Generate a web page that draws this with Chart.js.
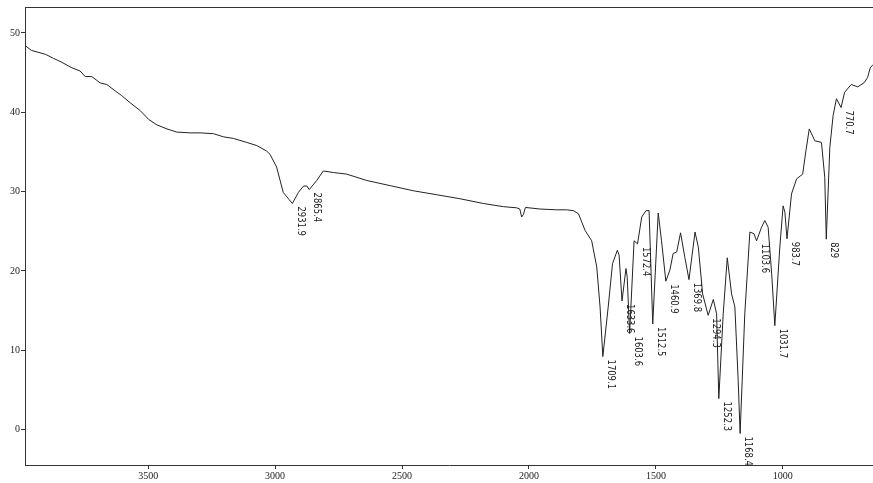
<!DOCTYPE html>
<html>
<head>
<meta charset="utf-8">
<script src="https://cdn.jsdelivr.net/npm/chart.js@4/dist/chart.umd.min.js"></script>
<style>
  html, body { margin: 0; padding: 0; background: #fff; }
  #wrap { width: 873px; height: 483px; }
</style>
</head>
<body>
<div id="wrap"><canvas id="irChart" width="873" height="483"></canvas></div>
<script>
// wavenumber (cm-1) and transmittance (%T)
const wavenumber = [
  3984, 3960, 3904, 3873, 3840, 3800, 3768, 3748, 3722, 3689, 3663, 3630, 3604, 3571, 3531,
  3498, 3465, 3426, 3387, 3335, 3295, 3243, 3203, 3164, 3112, 3072, 3033, 3020, 2994, 2968,
  2945, 2931.9, 2908, 2888, 2875, 2865.4, 2836, 2810, 2770, 2718, 2639, 2547, 2455, 2363, 2272,
  2180, 2101, 2048, 2036, 2029, 2022, 2014, 1957, 1891, 1852, 1825, 1805, 1779, 1753, 1733,
  1720, 1709.1, 1688, 1671, 1652, 1645, 1633.6, 1618, 1613, 1603.6, 1586, 1572.4, 1556, 1539, 1527,
  1512.5, 1491, 1478, 1460.9, 1445, 1432, 1418, 1403, 1386, 1369.8, 1346, 1333, 1316, 1294.3, 1274,
  1261, 1252.3, 1235, 1219, 1202, 1189, 1176, 1168.4, 1150, 1130, 1114, 1103.6, 1084, 1071, 1058,
  1044, 1031.7, 1012, 999, 992, 983.7, 966, 946, 922, 909, 896, 874, 848, 835, 829,
  815, 802, 789, 770.7, 757, 731, 705, 679, 666, 656, 645
];
const transmittance = [
  48.4, 47.8, 47.3, 46.8, 46.3, 45.6, 45.2, 44.5, 44.5, 43.7, 43.5, 42.7, 42.1, 41.2, 40.2,
  39.1, 38.4, 37.9, 37.5, 37.4, 37.4, 37.3, 36.9, 36.7, 36.2, 35.8, 35.1, 34.7, 33.1, 29.9,
  29.0, 28.5, 29.9, 30.7, 30.7, 30.25, 31.4, 32.6, 32.4, 32.2, 31.4, 30.75, 30.1, 29.6, 29.1,
  28.5, 28.1, 27.95, 27.8, 26.8, 27.1, 28.0, 27.8, 27.7, 27.7, 27.6, 27.2, 25.1, 23.8, 20.5,
  15.45, 9.2, 15.45, 20.9, 22.6, 22.0, 16.2, 20.3, 19.2, 12.1, 23.8, 23.4, 26.8, 27.6, 27.6,
  13.3, 27.3, 23.8, 18.7, 20.1, 22.2, 22.4, 24.8, 21.7, 18.9, 24.9, 23.0, 17.1, 14.4, 16.4,
  14.6, 3.9, 14.6, 21.65, 17.1, 15.45, 6.2, -0.5, 14.6, 24.9, 24.7, 23.8, 25.5, 26.35, 25.5,
  19.6, 13.1, 23.0, 28.2, 27.4, 24.05, 29.7, 31.6, 32.2, 35.2, 37.9, 36.4, 36.2, 31.8, 24.0,
  35.6, 39.6, 41.7, 40.6, 42.5, 43.5, 43.2, 43.75, 44.4, 45.6, 46.0
];

// annotated peaks
const peakLabels = ["2931.9", "2865.4", "1709.1", "1633.6", "1603.6", "1572.4", "1512.5", "1460.9",
  "1369.8", "1294.3", "1252.3", "1168.4", "1103.6", "1031.7", "983.7", "829", "770.7"];
const peakT = [28.5, 30.25, 9.2, 16.2, 12.1, 23.4, 13.3, 18.7,
  18.9, 14.4, 3.9, -0.5, 23.8, 13.1, 24.05, 24.0, 40.6];

const xTicks = [3500, 3000, 2500, 2000, 1500, 1000];
const yTicks = [0, 10, 20, 30, 40, 50];

const points = wavenumber.map((w, i) => ({ x: w, y: transmittance[i] }));

const peakLabelPlugin = {
  id: "peakLabels",
  afterDatasetsDraw(chart) {
    const { ctx, chartArea, scales } = chart;
    ctx.save();
    // top frame line
    ctx.strokeStyle = "#333";
    ctx.lineWidth = 1;
    ctx.beginPath();
    ctx.moveTo(chartArea.left, chartArea.top + 0.5);
    ctx.lineTo(chartArea.right, chartArea.top + 0.5);
    ctx.stroke();

    ctx.fillStyle = "#222";
    ctx.font = "11px 'Liberation Sans Narrow', 'DejaVu Sans Condensed', sans-serif";
    ctx.textAlign = "left";
    ctx.textBaseline = "middle";
    peakLabels.forEach((txt, i) => {
      const px = scales.x.getPixelForValue(parseFloat(txt));
      const py = scales.y.getPixelForValue(peakT[i]);
      ctx.save();
      ctx.translate(px + 8, py + 3);
      ctx.rotate(Math.PI / 2);
      ctx.scale(0.85, 1);
      ctx.fillText(txt, 0, 0);
      ctx.restore();
    });
    ctx.restore();
  }
};

new Chart(document.getElementById("irChart"), {
  type: "line",
  data: {
    datasets: [{
      data: points,
      borderColor: "#222",
      borderWidth: 1,
      pointRadius: 0,
      tension: 0,
      fill: false
    }]
  },
  options: {
    responsive: false,
    animation: false,
    layout: { padding: { top: 6, right: 0, left: 0, bottom: 0 } },
    plugins: {
      legend: { display: false },
      tooltip: { enabled: false }
    },
    scales: {
      x: {
        type: "linear",
        reverse: true,
        min: 645,
        max: 3985,
        afterBuildTicks: scale => { scale.ticks = xTicks.map(v => ({ value: v })); },
        afterFit: scale => { scale.height = 18; },
        grid: { drawOnChartArea: false, tickLength: 4, color: "#333" },
        border: { color: "#333" },
        ticks: {
          color: "#222",
          padding: 1,
          maxRotation: 0,
          callback: v => String(v),
          font: { family: "'Liberation Serif', serif", size: 10 }
        }
      },
      y: {
        min: -4.47,
        max: 53.27,
        afterBuildTicks: scale => { scale.ticks = yTicks.map(v => ({ value: v })); },
        afterFit: scale => { scale.width = 25; },
        grid: { drawOnChartArea: false, tickLength: 4, color: "#333" },
        border: { color: "#333" },
        ticks: {
          color: "#222",
          padding: 1,
          callback: v => String(v),
          font: { family: "'Liberation Serif', serif", size: 10 }
        }
      }
    }
  },
  plugins: [peakLabelPlugin]
});
</script>
</body>
</html>
